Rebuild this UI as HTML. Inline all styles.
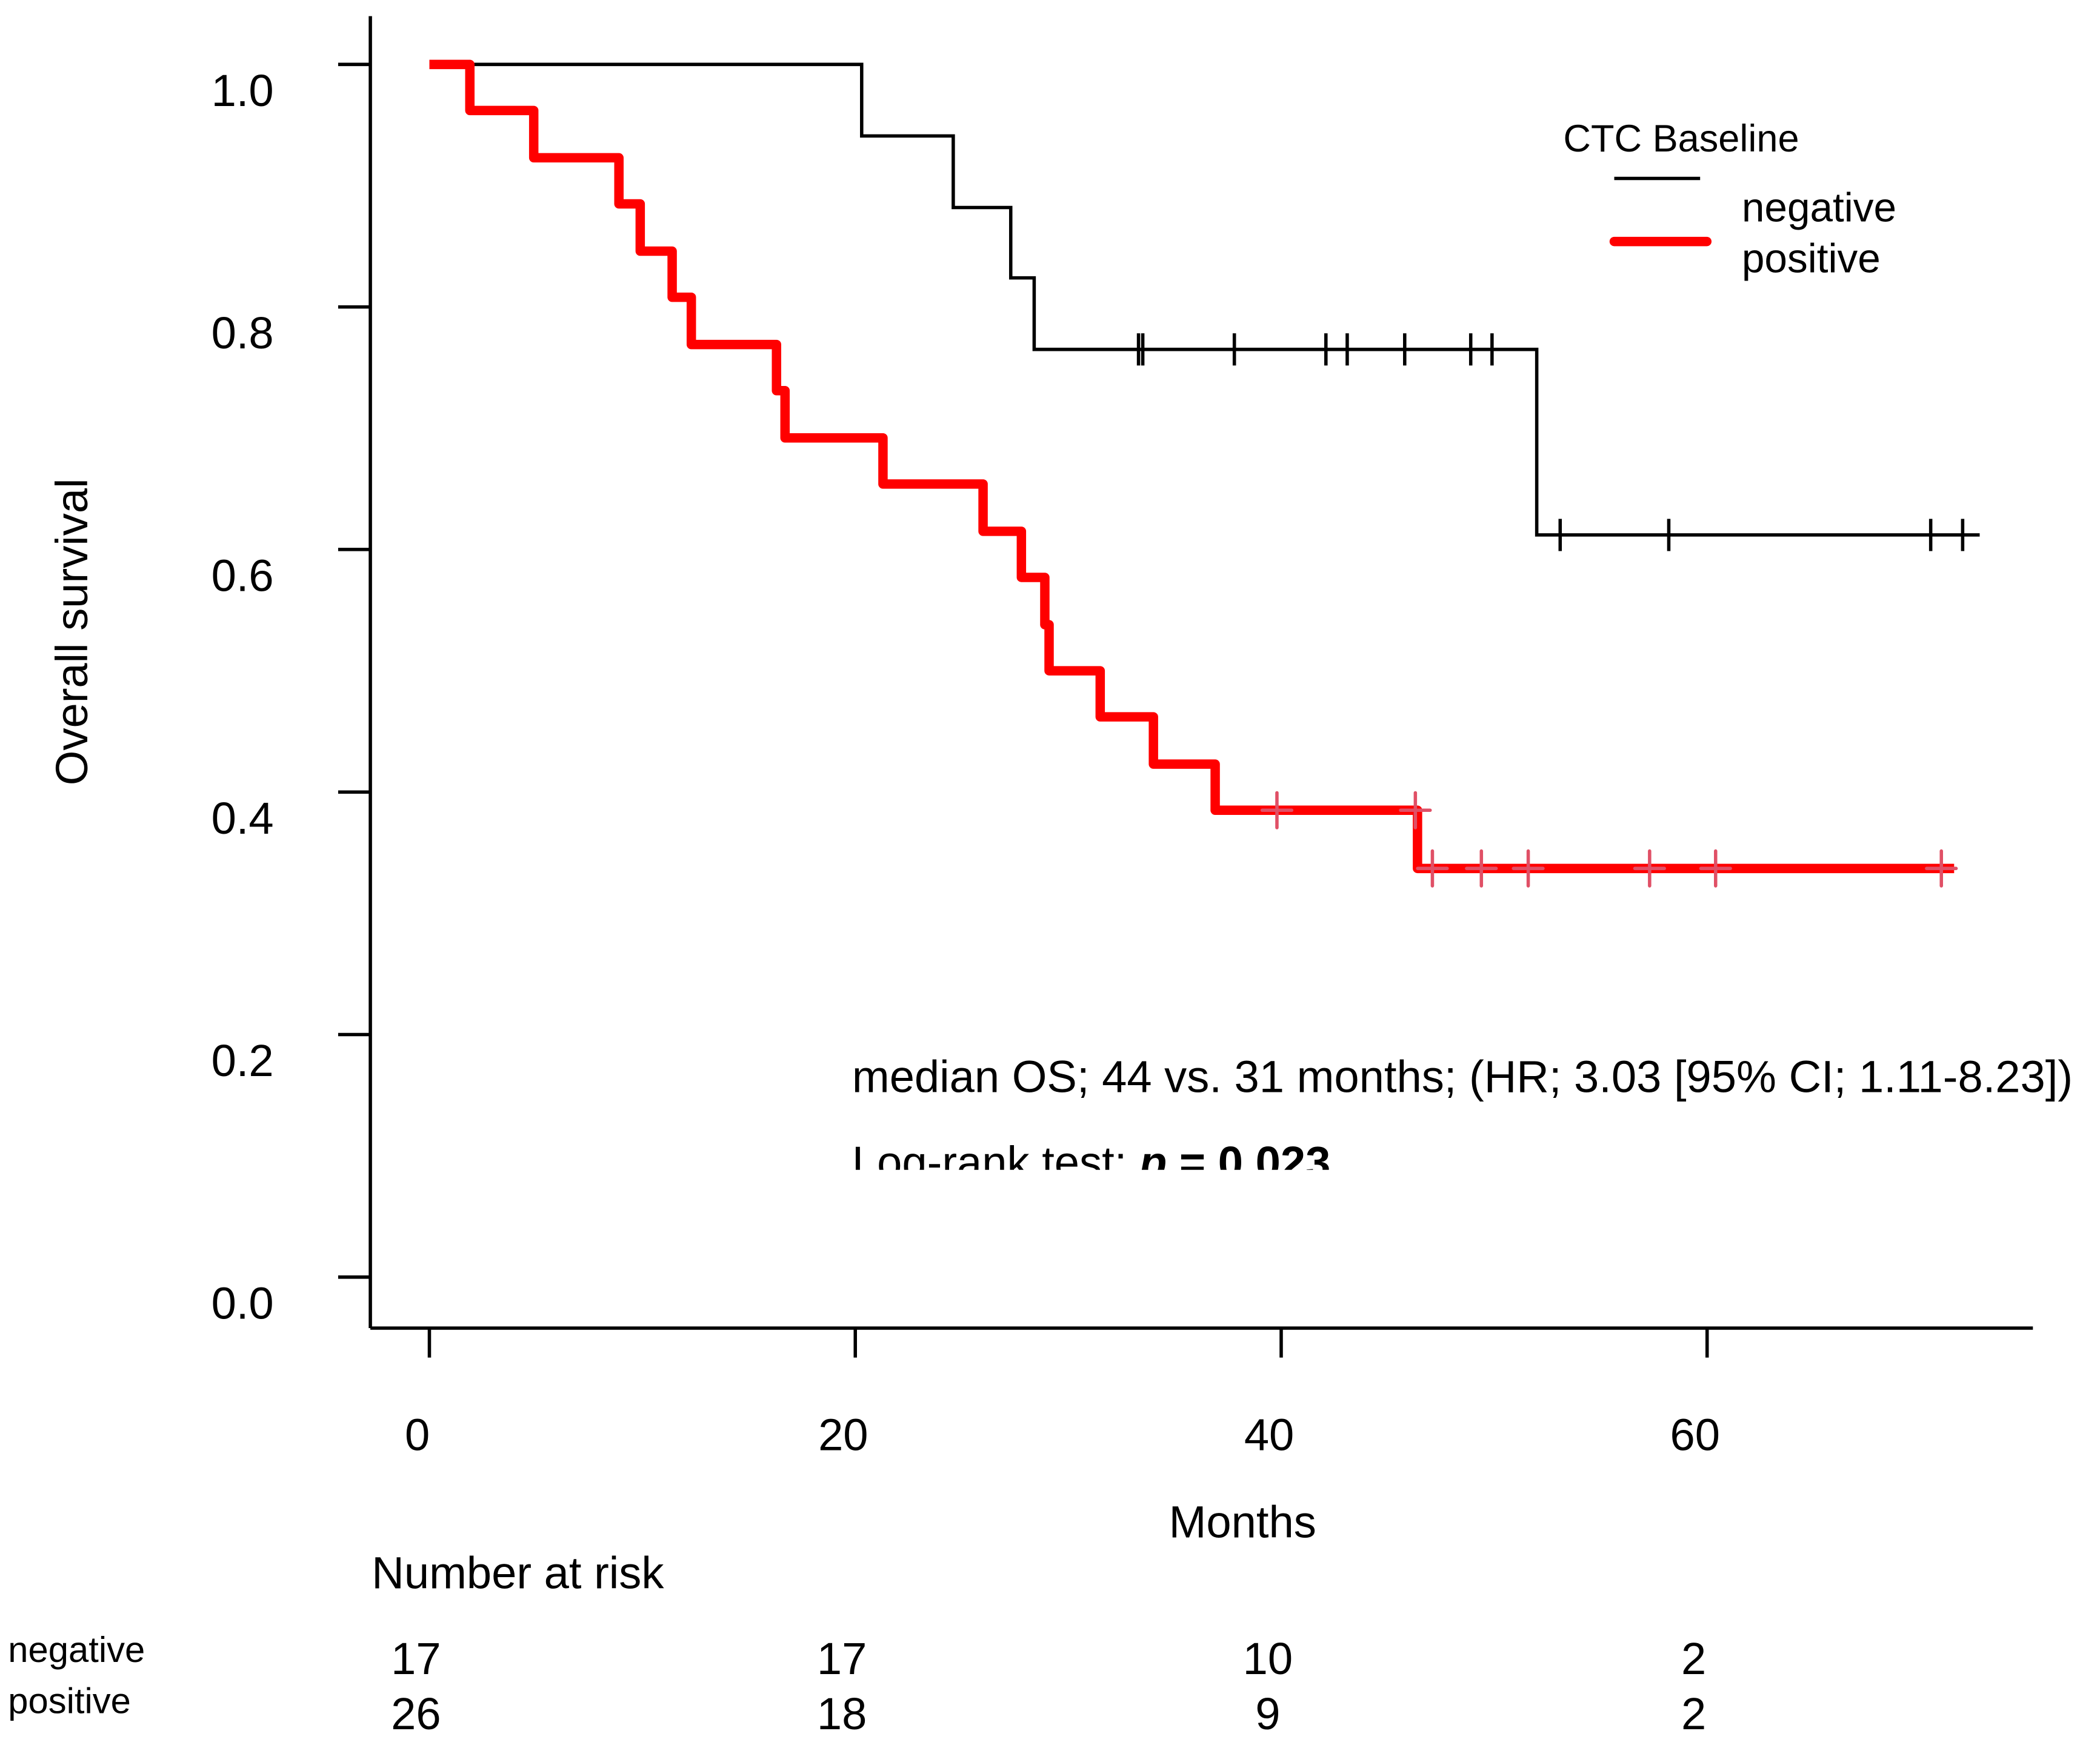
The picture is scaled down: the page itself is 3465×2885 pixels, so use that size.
<!DOCTYPE html>
<html><head><meta charset="utf-8"><style>
html,body{margin:0;padding:0;background:#fff;}
svg{display:block;font-family:"Liberation Sans",sans-serif;}
</style></head><body>
<svg id="chart" width="3465" height="2885" viewBox="0 0 1565 1303" xmlns="http://www.w3.org/2000/svg">
<defs><clipPath id="clipAnno"><rect x="600" y="760" width="965" height="112"/></clipPath></defs>
<g id="axes"></g>
<g id="curves"></g>
<g>
<text x="1165" y="113" font-size="28.5">CTC Baseline</text>
<line x1="1203" y1="133" x2="1267" y2="133" stroke="#000" stroke-width="2.5"/>
<line x1="1203" y1="180" x2="1272" y2="180" stroke="#f00" stroke-width="7" stroke-linecap="round"/>
<text x="1298" y="165" font-size="30.5">negative</text>
<text x="1298" y="203" font-size="30.5">positive</text>
</g>
<g clip-path="url(#clipAnno)">
<text x="635" y="814" font-size="33.5">median OS; 44 vs. 31 months; (HR; 3.03 [95% CI; 1.11-8.23])</text>
<text x="635" y="878" font-size="33.5">Log-rank test: <tspan font-weight="bold" font-style="italic">p</tspan><tspan font-weight="bold"> = 0.023</tspan></text>
</g>
<text x="65" y="471" font-size="33.5" text-anchor="middle" transform="rotate(-90 65 471)">Overall survival</text>
<text x="926" y="1146" font-size="33.5" text-anchor="middle">Months</text>
<text x="277" y="1184" font-size="33.5">Number at risk</text>
<text x="6" y="1239" font-size="27">negative</text>
<text x="6" y="1277" font-size="27">positive</text>
<g id="risk"></g>
</svg>
<script>
const xTicks=[0,20,40,60];
const yTicks=[0,0.2,0.4,0.6,0.8,1.0];
const negTimes=[0,20.3,24.6,27.3,28.4,52.0];
const negSurv=[1.0,0.941,0.882,0.824,0.765,0.612];
const negEnd=72.8;
const negCensor=[33.3,33.5,37.8,42.1,43.1,45.8,48.9,49.9,53.1,58.2,70.5,72.0];
const posTimes=[0,1.9,4.9,8.9,9.9,11.4,12.3,16.3,16.7,21.3,26.0,27.8,28.9,29.1,31.5,34.0,36.9,46.4];
const posSurv=[1.0,0.962,0.923,0.885,0.846,0.808,0.769,0.731,0.692,0.654,0.615,0.577,0.538,0.500,0.462,0.423,0.385,0.337];
const posEnd=71.6;
const posCensor=[39.8,46.3,47.1,49.4,51.6,57.3,60.4,71.0];
const riskNeg=[17,17,10,2];
const riskPos=[26,18,9,2];
const NS="http://www.w3.org/2000/svg";
const X=t=>320+t*15.87, Y=s=>952-s*904;
function mk(tag,attrs,parent){const e=document.createElementNS(NS,tag);for(const k in attrs)e.setAttribute(k,attrs[k]);parent.appendChild(e);return e;}
const ax=document.getElementById('axes');
let l=mk('line',{x1:276,y1:12,x2:276,y2:990,stroke:'#000','stroke-width':2.5},ax);


l=mk('line',{x1:276,y1:990,x2:1515,y2:990,stroke:'#000','stroke-width':2.5},ax);


yTicks.forEach(v=>{
 const t=mk('line',{x1:252,y1:Y(v),x2:276,y2:Y(v),stroke:'#000','stroke-width':2.5},ax);
 
 
 const tx=mk('text',{x:204,y:Y(v)+31,'font-size':33.5,'text-anchor':'end'},ax);
 tx.textContent=v.toFixed(1);
 
 
});
xTicks.forEach(v=>{
 const t=mk('line',{x1:X(v),y1:990,x2:X(v),y2:1012,stroke:'#000','stroke-width':2.5},ax);
 
 
 const tx=mk('text',{x:X(v)-9,y:1081,'font-size':33.5,'text-anchor':'middle'},ax);
 tx.textContent=v;
 
 
});
const cv=document.getElementById('curves');
function stepPath(ts,ss,end){let d='M'+X(ts[0])+' '+Y(ss[0]);for(let i=1;i<ts.length;i++){d+=' H'+X(ts[i])+' V'+Y(ss[i]);}d+=' H'+X(end);return d;}
function survAt(ts,ss,t){let s=ss[0];for(let i=0;i<ts.length;i++)if(ts[i]<=t)s=ss[i];return s;}
let p=mk('path',{d:stepPath(negTimes,negSurv,negEnd),fill:'none',stroke:'#000','stroke-width':2.5},cv);


negCensor.forEach(t=>{const y=Y(survAt(negTimes,negSurv,t));
 const c=mk('line',{x1:X(t),y1:y-12,x2:X(t),y2:y+12,stroke:'#000','stroke-width':2.5},cv);
 
 });
p=mk('path',{d:stepPath(posTimes,posSurv,posEnd),fill:'none',stroke:'#f00','stroke-width':7,'stroke-linejoin':'round'},cv);


posCensor.forEach(t=>{const y=Y(survAt(posTimes,posSurv,t));
 const c=mk('path',{d:`M${X(t)-11} ${y} H${X(t)+11} M${X(t)} ${y-13} V${y+13}`,stroke:'#e05066','stroke-width':2.5,'stroke-linecap':'round'},cv);
 
 });
const rk=document.getElementById('risk');
xTicks.forEach((v,i)=>{
 let tx=mk('text',{x:X(v)-10,y:1248,'font-size':33.5,'text-anchor':'middle'},rk);
 tx.textContent=riskNeg[i];
 
 
 tx=mk('text',{x:X(v)-10,y:1289,'font-size':33.5,'text-anchor':'middle'},rk);
 tx.textContent=riskPos[i];
 
 
});
</script>
</body></html>
